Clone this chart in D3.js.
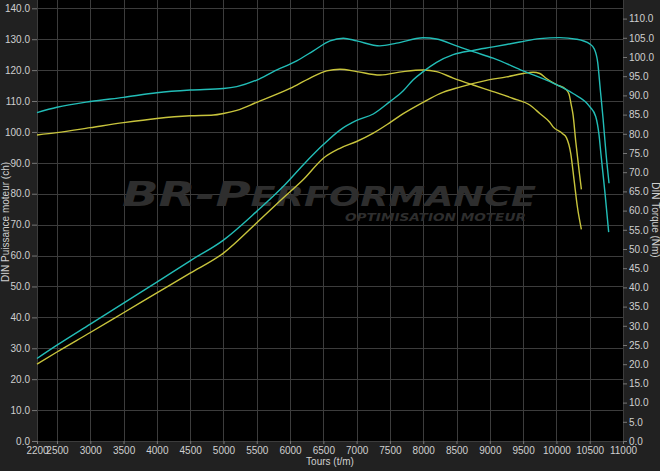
<!DOCTYPE html>
<html><head><meta charset="utf-8">
<script src="https://cdn.jsdelivr.net/npm/d3@7"></script>
<style>html,body{margin:0;padding:0;background:#212121;}svg{display:block;}</style>
</head><body>
<svg id="c" width="660" height="471"></svg>
<script>
// ---- data ----
const xTicks = [2200,2500,3000,3500,4000,4500,5000,5500,6000,6500,7000,7500,8000,8500,9000,9500,10000,10500,11000];
const leftTicks = d3.range(0, 141, 10);
const rightTicks = d3.range(0, 111, 5);

// power (ch), left axis
const powerCyan = [[2200,26.7],[2500,31.0],[3000,37.8],[3500,44.6],[4000,51.4],[4500,58.3],[5000,65.0],[5500,74.3],[5900,82.4],[6200,89.4],[6500,95.9],[6750,100.6],[7000,103.7],[7250,105.8],[7500,109.8],[7700,113.3],[7850,116.9],[8000,119.5],[8200,122.5],[8450,125.0],[8750,126.4],[9050,127.5],[9450,129.1],[9750,130.2],[10050,130.5],[10300,130.0],[10500,128.5],[10570,126.8],[10620,122.5],[10660,113.5],[10700,104.5],[10745,93.0],[10790,83.4]];
const powerYellow = [[2200,24.9],[2500,28.8],[3000,35.1],[3500,41.5],[4000,47.9],[4500,54.3],[5000,60.8],[5500,70.6],[5900,78.7],[6200,84.6],[6500,91.5],[6750,94.7],[7000,96.9],[7250,99.6],[7500,103.0],[7700,105.9],[8000,109.6],[8250,112.4],[8550,114.5],[8950,116.7],[9250,117.8],[9500,118.9],[9650,119.3],[9750,118.9],[9850,117.3],[10000,115.3],[10140,113.8],[10190,112.2],[10220,109.0],[10250,105.5],[10290,97.0],[10340,87.6],[10375,81.4]];
// torque (Nm), right axis
const torqueCyan = [[2200,85.5],[2500,86.9],[3000,88.4],[3500,89.5],[4000,90.7],[4500,91.4],[5000,91.8],[5200,92.3],[5500,94.0],[5750,96.2],[6100,99.0],[6350,101.6],[6600,104.2],[6800,104.9],[7000,104.2],[7350,102.9],[7600,103.6],[8000,105.0],[8200,104.7],[8500,102.9],[8750,101.4],[9050,99.7],[9500,96.4],[9950,93.2],[10250,90.5],[10500,87.1],[10590,84.5],[10640,79.7],[10670,74.5],[10730,64.5],[10785,54.4]];
const torqueYellow = [[2200,79.7],[2500,80.3],[3000,81.6],[3500,82.9],[4000,84.0],[4500,84.7],[4850,84.9],[5000,85.3],[5200,86.1],[5500,88.2],[6000,91.8],[6300,94.5],[6550,96.4],[6750,96.8],[7000,96.2],[7350,95.3],[7700,96.2],[8000,96.6],[8200,96.2],[8450,94.5],[8750,92.7],[9050,91.0],[9350,89.2],[9600,87.5],[9750,85.3],[9900,83.0],[9950,81.8],[10090,80.1],[10150,79.0],[10215,74.9],[10265,68.0],[10315,61.0],[10375,55.1]];

const cyan = "#22bdb7", yellow = "#c8c43c";

// ---- layout ----
const svg = d3.select("#c");
const L = 37, R = 623, T = 0, B = 441;
const x = d3.scaleLinear().domain([2200, 11000]).range([L, R]);
const yL = d3.scaleLinear().domain([0, 140]).range([B, 8.3]);
const yR = d3.scaleLinear().domain([0, 110]).range([B, 18.6]);

svg.append("rect").attr("width",660).attr("height",471).attr("fill","#212121");
svg.append("rect").attr("x",L).attr("y",T).attr("width",R-L).attr("height",B-T).attr("fill","#000");

const grid = svg.append("g").attr("stroke","#3c3c3c").attr("stroke-width",1);
grid.selectAll(".v").data(xTicks).join("line")
  .attr("x1",d=>Math.round(x(d))+0.5).attr("x2",d=>Math.round(x(d))+0.5).attr("y1",T).attr("y2",B);
grid.selectAll(".h").data(leftTicks).join("line")
  .attr("y1",d=>Math.round(yL(d))+0.5).attr("y2",d=>Math.round(yL(d))+0.5).attr("x1",L).attr("x2",R);

// watermark
const wm = svg.append("g").attr("fill","#2e2e2e").attr("font-family","DejaVu Sans, sans-serif")
  .attr("font-style","italic").attr("font-weight","bold");
const t1 = wm.append("text").attr("x",122).attr("y",206).attr("textLength",414).attr("lengthAdjust","spacingAndGlyphs");
t1.append("tspan").attr("font-size",34).text("BR-P");
t1.append("tspan").attr("font-size",26).text("ERFORMANCE");
wm.append("text").attr("x",345).attr("y",221).attr("font-size",10)
  .attr("textLength",181).attr("lengthAdjust","spacingAndGlyphs").text("OPTIMISATION MOTEUR");

// axes
const font = "Liberation Sans, Arial, sans-serif";
function styleAxis(g){
  g.select(".domain").remove();
  g.selectAll(".tick line").attr("stroke","#777");
  g.selectAll(".tick text").attr("fill","#cfcfcf").attr("font-size",10).attr("font-family",font);
}
svg.append("g").attr("transform",`translate(${L},0)`)
  .call(d3.axisLeft(yL).tickValues(leftTicks).tickFormat(d3.format(".1f")).tickSize(5).tickPadding(2)).call(styleAxis);
svg.append("g").attr("transform",`translate(${R},0)`)
  .call(d3.axisRight(yR).tickValues(rightTicks).tickFormat(d3.format(".1f")).tickSize(4).tickPadding(2)).call(styleAxis);
svg.append("g").attr("transform",`translate(0,${B})`)
  .call(d3.axisBottom(x).tickValues(xTicks).tickFormat(d3.format("d")).tickSize(3).tickPadding(3)).call(styleAxis);

// axis titles
svg.append("text").attr("x",330).attr("y",465).attr("text-anchor","middle").attr("fill","#cfcfcf")
  .attr("font-size",10).attr("font-family",font).text("Tours (t/m)");
svg.append("text").attr("transform","translate(9,222) rotate(-90)").attr("text-anchor","middle").attr("fill","#cfcfcf")
  .attr("font-size",10).attr("font-family",font).text("DIN Puissance moteur (ch)");
svg.append("text").attr("transform","translate(652,220) rotate(90)").attr("text-anchor","middle").attr("fill","#cfcfcf")
  .attr("font-size",10).attr("font-family",font).text("DIN Torque (Nm)");

// curves
const lineL = d3.line().x(d=>x(d[0])).y(d=>yL(d[1])).curve(d3.curveMonotoneX);
const lineR = d3.line().x(d=>x(d[0])).y(d=>yR(d[1])).curve(d3.curveMonotoneX);
const curves = svg.append("g").attr("fill","none").attr("stroke-width",1.4);
curves.append("path").attr("d",lineR(torqueYellow)).attr("stroke",yellow);
curves.append("path").attr("d",lineL(powerYellow)).attr("stroke",yellow);
curves.append("path").attr("d",lineR(torqueCyan)).attr("stroke",cyan);
curves.append("path").attr("d",lineL(powerCyan)).attr("stroke",cyan);
</script>
</body></html>
